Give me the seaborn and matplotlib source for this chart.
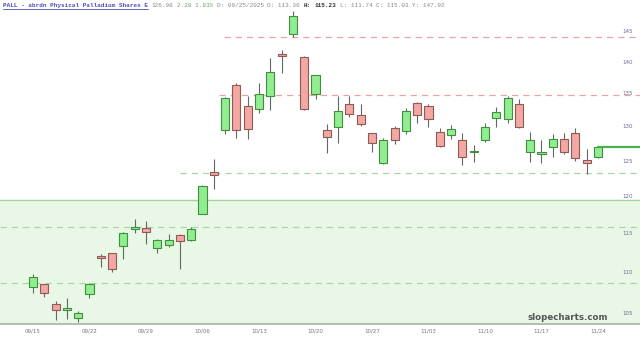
import matplotlib
matplotlib.use("Agg")
import matplotlib.pyplot as plt
import numpy as np
import pandas as pd
import seaborn as sns

# ---------------- data ----------------
opens = [108.15, 108.52, 106.06, 105.33, 104.37, 107.28, 112.06, 112.45, 113.36, 115.64,
         115.77, 113.10, 113.52, 114.84, 114.18, 117.65, 123.32, 129.40, 136.27, 133.02,
         132.56, 134.56, 141.22, 144.50, 140.73, 134.87, 129.40, 129.85, 133.33, 131.66,
         128.96, 124.60, 129.70, 129.26, 133.48, 133.02, 129.11, 128.67, 127.93, 126.18,
         127.93, 131.20, 131.05, 133.33, 126.18, 125.89, 126.91, 128.08, 128.96, 125.03,
         125.46]
highs = [109.77, 108.52, 106.42, 106.79, 105.21, 108.60, 112.32, 112.50, 115.23, 116.97,
         116.71, 114.25, 114.97, 114.90, 115.90, 121.63, 125.17, 134.41, 136.59, 134.56,
         136.59, 140.57, 141.87, 148.37, 140.90, 137.95, 130.30, 134.56, 134.56, 133.33,
         129.00, 128.22, 130.00, 132.72, 133.64, 133.33, 129.70, 130.15, 128.96, 127.20,
         130.45, 132.87, 134.56, 134.10, 129.11, 127.93, 128.81, 128.96, 129.70, 126.62,
         127.06]
lows = [107.40, 106.91, 104.13, 104.25, 103.89, 106.79, 110.65, 110.02, 111.74, 115.03,
        113.65, 112.45, 113.23, 110.40, 114.05, 117.60, 120.94, 128.81, 128.22, 128.08,
        131.96, 132.41, 138.17, 144.00, 132.40, 134.10, 126.04, 127.49, 131.35, 130.00,
        126.18, 124.46, 127.35, 128.81, 130.45, 129.85, 126.91, 128.08, 124.32, 124.75,
        127.64, 129.85, 130.45, 129.70, 124.75, 124.60, 125.46, 125.89, 124.89, 123.04,
        125.32]
closes = [109.39, 107.40, 105.33, 105.57, 104.97, 108.52, 111.80, 110.40, 115.03, 115.90,
          115.23, 114.18, 114.18, 114.05, 115.64, 121.36, 122.90, 134.25, 129.40, 129.55,
          134.87, 138.32, 140.89, 147.52, 132.56, 137.85, 128.37, 132.26, 131.81, 130.30,
          127.49, 127.93, 127.93, 132.26, 131.66, 131.05, 127.06, 129.55, 125.46, 126.45,
          129.85, 132.11, 134.25, 129.85, 127.93, 126.30, 128.08, 126.18, 125.32, 124.70,
          126.98]
week_labels = ["09/15", "09/22", "09/29", "10/06", "10/13", "10/20",
               "10/27", "11/03", "11/10", "11/17", "11/24"]
week_index = [0, 5, 10, 15, 20, 25, 30, 35, 40, 45, 50]
y_ticks = [105, 110, 115, 120, 125, 130, 135, 140, 145]
resistance_levels = [144.0, 134.7]
support_levels = [123.2, 115.9, 108.6]
zone_top = 119.5
last_price = 126.98

header_title = "PALL - abrdn Physical Palladium Shares E"
header_last = "126.98"
header_change = "2.28 1.83%"
header_date = "D: 09/25/2025"
header_o = "O: 113.36"
header_h_lab = "H:"
header_h_val = "115.23"
header_l = "L: 111.74"
header_c = "C: 115.03"
header_y = "Y: 147.92"

# ---------------- figure ----------------
sns.set_theme(style="white")
plt.rcParams["font.family"] = ["DejaVu Sans"]

W, H = 640, 339
fig = plt.figure(figsize=(W / 100, H / 100), dpi=100)
fig.patch.set_facecolor("white")
ax = fig.add_axes([0, 15 / H, 1, 324 / H])
ax.set_facecolor("white")

df = pd.DataFrame({"o": opens, "h": highs, "l": lows, "c": closes})
df["i"] = np.arange(len(df))
df["up"] = df["c"] >= df["o"]

ax.set_yscale("log")
ymin, ymax = 103.67, 150.26
ax.set_ylim(ymin, ymax)
x0 = -33 / 11.3
x1 = (W - 33) / 11.3
ax.set_xlim(x0, x1)

# support zone
ax.axhspan(ymin, zone_top, color="#e9f8e6", zorder=0)
ax.axhline(zone_top, color="#9fd89a", lw=1.0, zorder=1)

# dashed levels
ax.axhline(resistance_levels[0], xmin=224 / W, xmax=1, color="#e8a3a3", lw=0.9,
           dashes=(5, 4), zorder=1)
ax.axhline(resistance_levels[1], xmin=219 / W, xmax=1, color="#e8a3a3", lw=0.9,
           dashes=(5, 4), zorder=1)
ax.axhline(support_levels[0], xmin=180 / W, xmax=1, color="#a9d6a5", lw=0.9,
           dashes=(5, 4), zorder=1)
ax.axhline(support_levels[1], xmin=0, xmax=1, color="#a9d6a5", lw=0.9,
           dashes=(5, 4), zorder=1)
ax.axhline(support_levels[2], xmin=0, xmax=1, color="#a9d6a5", lw=0.9,
           dashes=(5, 4), zorder=1)

# wicks
ax.vlines(df["i"], df["l"], df["h"], color="#666666", lw=0.8, zorder=2)

# bodies
bw = 0.72
up = df[df["up"]]
dn = df[~df["up"]]
ax.bar(up["i"], (up["c"] - up["o"]).clip(lower=0.25), bottom=up["o"], width=bw,
       color="#90ee90", edgecolor="#3f8f3f", linewidth=0.8, zorder=3)
ax.bar(dn["i"], (dn["o"] - dn["c"]).clip(lower=0.25), bottom=dn["c"], width=bw,
       color="#f4a7a3", edgecolor="#8e5a55", linewidth=0.8, zorder=3)

# last price line
lp = pd.DataFrame({"x": [len(df) - 1, x1], "y": [last_price, last_price]})
sns.lineplot(data=lp, x="x", y="y", ax=ax, color="#4caf50", lw=1.6, zorder=4)

# axes styling
for s in ["top", "left", "right"]:
    ax.spines[s].set_visible(False)
ax.spines["bottom"].set_color("#bbbbbb")
ax.spines["bottom"].set_linewidth(1.5)

ax.set_xticks(week_index)
ax.set_xticklabels(week_labels)
ax.tick_params(axis="x", length=0, pad=3, labelsize=4, colors="#777777")

ax.yaxis.tick_right()
ax.yaxis.set_minor_locator(matplotlib.ticker.NullLocator())
ax.set_yticks(y_ticks)
ax.set_yticklabels([str(v) for v in y_ticks])
ax.tick_params(axis="y", length=0, pad=-13, labelsize=4, colors="#6a6a8a")
ax.set_xlabel("")
ax.set_ylabel("")
ax.grid(False)

# watermark
fig.text(608 / W, 1 - 317 / H, "slopecharts.com", ha="right", va="center",
         fontsize=6.2, fontweight="bold", color="#555555")

# header
cw = 3.62
hx0 = 3
hy = 1 - 5.5 / H
mono = "Liberation Mono"


def htext(col, s, color, bold=False):
    fig.text((hx0 + cw * col) / W, hy, s, ha="left", va="center",
             fontsize=4.3, family=mono, color=color,
             fontweight="bold" if bold else "normal")


htext(0, header_title, "#4b4bb0", bold=True)
fig.add_artist(matplotlib.lines.Line2D(
    [hx0 / W, (hx0 + cw * len(header_title)) / W], [1 - 9 / H, 1 - 9 / H],
    color="#4b4bb0", lw=0.6))
col = len(header_title) + 1
htext(col, header_last, "#888888")
col += len(header_last) + 1
htext(col, header_change, "#66aa66")
col += len(header_change) + 1
for part in [header_date, header_o]:
    htext(col, part, "#888888")
    col += len(part) + 1
htext(col, header_h_lab, "#333333", bold=True)
col += len(header_h_lab) + 1
htext(col, header_h_val, "#333333", bold=True)
col += len(header_h_val) + 1
for part in [header_l, header_c, header_y]:
    htext(col, part, "#888888")
    col += len(part) + 1

fig.savefig("out.png", dpi=100)
